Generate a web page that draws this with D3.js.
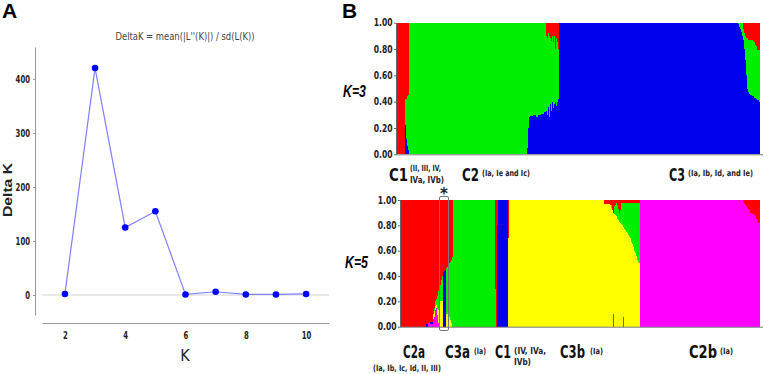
<!DOCTYPE html>
<html>
<head>
<meta charset="utf-8">
<script src="https://cdn.jsdelivr.net/npm/d3@7"></script>
<style>
  body { margin: 0; background: #fff; }
  svg { display: block; }
  .narrow { font-family: "Liberation Sans Narrow", "DejaVu Sans Condensed", "Liberation Sans", sans-serif; }
</style>
</head>
<body>
<div id="chart"></div>
<script>
// ---- panel A: Delta K by K ----
const kValues = [2, 3, 4, 5, 6, 7, 8, 9, 10];
const deltaK = [2, 420, 125, 155, 1, 6, 1, 1, 2];
const deltaKTicks = [0, 100, 200, 300, 400];
const kTicks = [2, 4, 6, 8, 10];

// ---- panel B: STRUCTURE membership, runs of individuals ----
// K=3 rows: [individuals, red, green, blue]
const k3Keys = ["blue", "green", "red"];
const k3Runs = [
  [9, 1, 0, 0],
  [1, .58, .2, .22], [1, .58, .3, .12], [1, .56, .38, .06], [1, .55, .42, .03],
  [118, 0, 1, 0],
  [1, 0, .95, .05], [1, 0, .8, .2], [1, 0, .72, .28],
  [3, 0, .71, .29], [3, 0, .7, .3], [2, 0, .72, .28], [3, 0, .7, .3], [3, 0, .69, .31], [2, 0, .68, .32],
  [1, .1, .57, .33], [1, .12, .58, .3], [1, .08, .56, .36], [1, .1, .62, .28], [1, .12, .5, .38],
  [1, .14, .53, .33], [1, .1, .5, .4], [1, .15, .5, .35], [1, .1, .52, .38], [1, .2, .4, .4],
  [1, .12, .51, .37], [1, .15, .45, .4], [1, .2, .38, .42],
  [179, 0, 0, 1],
  [1, 0, .01, .99], [1, 0, .03, .97], [1, 0, .05, .95], [1, 0, .07, .93], [1, 0, .1, .9],
  [1, .05, .08, .87], [1, .08, .12, .8], [1, .1, .18, .72], [1, .12, .28, .6], [1, .12, .38, .5],
  [1, .13, .4, .47], [1, .13, .41, .46], [1, .13, .42, .45], [1, .13, .42, .45], [1, .13, .43, .44],
  [1, .14, .42, .44], [1, .15, .42, .43], [1, .17, .4, .43], [1, .18, .4, .42], [1, .21, .38, .41],
  [1, .21, .38, .41], [1, .21, .39, .4]
];

// K=5 rows: [individuals, red, green, blue, yellow, magenta]
const k5Keys = ["magenta", "yellow", "blue", "green", "red"];
const k5Runs = [
  [26, 1, 0, 0, 0, 0], [2, .98, 0, .02, 0, 0], [2, .97, 0, 0, 0, .03], [3, .96, 0, .02, 0, .02],
  [1, .9, 0, 0, .04, .06], [1, .85, .03, 0, .04, .08], [1, .8, .04, 0, .03, .13], [1, .78, .05, 0, .02, .15],
  [1, .76, .1, 0, .05, .09], [1, .72, .15, 0, .1, .03], [1, .7, .12, 0, .18, 0], [1, .67, .13, 0, .2, 0],
  [1, .63, .17, 0, .2, 0], [1, .6, .2, 0, .2, 0], [1, .57, 0, .43, 0, 0], [1, .56, 0, .44, 0, 0],
  [1, .55, 0, .45, 0, 0], [1, .54, .36, 0, .1, 0], [1, .53, .37, 0, .1, 0], [1, .52, .38, 0, .1, 0],
  [1, .5, .42, 0, .08, 0], [1, .49, .46, 0, .05, 0], [1, .47, .5, 0, .03, 0], [1, .45, .55, 0, 0, 0],
  [42, 0, 1, 0, 0, 0],
  [1, .7, .3, 0, 0, 0], [1, 1, 0, 0, 0, 0], [1, .2, 0, .8, 0, 0],
  [10, 0, 0, 1, 0, 0],
  [1, .3, 0, 0, .7, 0],
  [95, 0, 0, 0, 1, 0], [6, .03, 0, 0, .97, 0],
  [1, .04, 0, 0, .96, 0], [1, .04, .02, 0, .94, 0], [1, .08, 0, 0, .92, 0], [1, .1, 0, 0, .8, .1],
  [1, .05, .06, 0, .89, 0], [1, .04, .08, 0, .88, 0], [1, .02, .11, 0, .87, 0], [1, .04, .11, 0, .85, 0],
  [1, .07, .09, 0, .84, 0], [1, .1, .07, 0, .83, 0], [1, .08, .1, 0, .82, 0], [1, .02, .17, 0, .81, 0],
  [1, .02, .18, 0, .8, 0], [1, .02, .19, 0, .71, .08], [1, .02, .21, 0, .77, 0], [1, .02, .22, 0, .76, 0],
  [1, .02, .23, 0, .75, 0], [1, .02, .24, 0, .74, 0], [1, .02, .26, 0, .72, 0], [1, .02, .27, 0, .71, 0],
  [1, .02, .28, 0, .7, 0], [1, .02, .31, 0, .67, 0], [1, .02, .33, 0, .65, 0], [1, .02, .35, 0, .63, 0],
  [1, .02, .38, 0, .6, 0], [1, .02, .4, 0, .58, 0], [1, .02, .42, 0, .56, 0], [1, .02, .45, 0, .53, 0],
  [1, .02, .47, 0, .51, 0], [1, .02, .48, 0, .5, 0],
  [103, 0, 0, 0, 0, 1],
  [1, .02, 0, 0, 0, .98], [1, .03, 0, 0, 0, .97], [1, .04, 0, 0, 0, .96], [1, .05, 0, 0, 0, .95],
  [1, .06, 0, 0, 0, .94], [1, .07, 0, 0, 0, .93], [1, .08, 0, 0, 0, .92], [1, .1, 0, 0, 0, .9],
  [1, .1, 0, 0, 0, .9], [1, .11, 0, 0, 0, .89], [1, .11, 0, 0, 0, .89], [1, .12, 0, 0, 0, .88],
  [1, .13, 0, 0, 0, .87], [1, .15, 0, 0, 0, .85], [1, .17, 0, 0, 0, .83], [1, .18, 0, 0, 0, .82],
  [1, .18, 0, 0, 0, .82]
];
const membershipTicks = [0, .2, .4, .6, .8, 1];

const clusterColor = {
  red: "#ff0000", green: "#00ee00", blue: "#0000ee", yellow: "#ffff00", magenta: "#ff00ff"
};

const W = 768, H = 374;
const svg = d3.select("#chart").append("svg").attr("width", W).attr("height", H);

// squeeze a label to a given width per character
function fitText(sel, perChar) {
  sel.each(function () {
    const t = d3.select(this);
    t.attr("textLength", t.text().length * perChar).attr("lengthAdjust", "spacingAndGlyphs");
  });
}

// place a text at (x, baseline) and squeeze it horizontally to width w
function squeezedText(str, x, y, w, size, extra) {
  const t = svg.append("text").attr("x", 0).attr("y", 0).attr("class", "narrow")
    .attr("font-weight", "bold").attr("font-size", size).attr("fill", extra || "#111").text(str);
  const natural = t.node().getComputedTextLength();
  const s = Math.min(1, w / natural);
  t.attr("transform", `translate(${x},${y}) scale(${s},1)`);
  return t;
}

// panel letters
svg.append("text").attr("x", 2).attr("y", 18).attr("font-family", "Liberation Sans, Arial, sans-serif")
  .attr("font-weight", "bold").attr("font-size", 21).text("A");
svg.append("text").attr("x", 342).attr("y", 18).attr("font-family", "Liberation Sans, Arial, sans-serif")
  .attr("font-weight", "bold").attr("font-size", 21).text("B");

// ---------- panel A ----------
const xA = d3.scaleLinear().domain([1.24, 10.76]).range([42, 329]);
const yA = d3.scaleLinear().domain([-37, 459]).range([315, 47]);
const gA = svg.append("g");

gA.append("line").attr("x1", 42).attr("x2", 329).attr("y1", yA(0)).attr("y2", yA(0))
  .attr("stroke", "#d4d4d4").attr("stroke-width", 1);

const yAxisA = gA.append("g").attr("transform", "translate(35,0)")
  .call(d3.axisLeft(yA).tickValues(deltaKTicks).tickSize(2).tickSizeOuter(0).tickPadding(3));
const xAxisA = gA.append("g").attr("transform", "translate(0,323)")
  .call(d3.axisBottom(xA).tickValues(kTicks).tickSize(0).tickSizeOuter(0).tickPadding(8));
[yAxisA, xAxisA].forEach(ax => {
  ax.select(".domain").attr("stroke", "#999");
  ax.selectAll(".tick line").attr("stroke", "#999");
  ax.selectAll("text").attr("class", "narrow").attr("font-size", 11).attr("font-weight", "bold")
    .attr("fill", "#222").call(fitText, 4.8);
});

const line = d3.line().x((d, i) => xA(kValues[i])).y(d => yA(d));
gA.append("path").datum(deltaK).attr("fill", "none").attr("stroke", "#8080ff")
  .attr("stroke-width", 1.2).attr("d", line);
gA.selectAll("circle").data(deltaK).join("circle")
  .attr("cx", (d, i) => xA(kValues[i])).attr("cy", d => yA(d)).attr("r", 3.3).attr("fill", "#0000ff");

gA.append("text").attr("x", 185).attr("y", 40).attr("text-anchor", "middle")
  .attr("font-family", "DejaVu Sans, sans-serif").attr("font-size", 10.5).attr("fill", "#444")
  .attr("textLength", 139).attr("lengthAdjust", "spacingAndGlyphs")
  .text("DeltaK = mean(|L''(K)|) / sd(L(K))");
gA.append("text").attr("transform", "translate(12,190) rotate(-90)").attr("text-anchor", "middle")
  .attr("font-family", "Liberation Sans, Arial, sans-serif").attr("font-weight", "bold").attr("font-size", 12.5)
  .attr("textLength", 54).attr("lengthAdjust", "spacingAndGlyphs").attr("fill", "#222").text("Delta K");
gA.append("text").attr("x", 185).attr("y", 361).attr("text-anchor", "middle").attr("class", "narrow")
  .attr("font-size", 16).attr("fill", "#222").text("K");

// ---------- panel B ----------
function structurePlot(runs, fields, keys, box) {
  const rows = [];
  let start = 0;
  runs.forEach(r => {
    const o = { start, n: r[0] };
    fields.forEach((f, i) => { o[f] = r[i + 1]; });
    rows.push(o);
    start += r[0];
  });
  const x = d3.scaleLinear().domain([0, start]).range([box.left, box.right]);
  const y = d3.scaleLinear().domain([0, 1]).range([box.bottom, box.top]);
  const series = d3.stack().keys(keys)(rows);
  const g = svg.append("g");
  g.selectAll("g.layer").data(series).join("g").attr("class", "layer")
    .attr("fill", s => clusterColor[s.key])
    .selectAll("rect").data(s => s).join("rect")
    .attr("x", d => x(d.data.start))
    .attr("width", d => x(d.data.start + d.data.n) - x(d.data.start) + 0.4)
    .attr("y", d => y(d[1]))
    .attr("height", d => Math.max(0, y(d[0]) - y(d[1])))
    .attr("shape-rendering", "crispEdges");
  const ax = g.append("g").attr("transform", `translate(${box.left},0)`)
    .call(d3.axisLeft(y).tickValues(membershipTicks).tickFormat(d3.format(".2f"))
      .tickSize(2).tickSizeOuter(0).tickPadding(1.5));
  ax.select(".domain").attr("stroke", "#666");
  ax.selectAll(".tick line").attr("stroke", "#666");
  ax.selectAll("text").attr("class", "narrow").attr("font-size", 10).attr("font-weight", "bold")
    .attr("fill", "#222").call(fitText, 4.7);
  g.append("line").attr("x1", box.left).attr("x2", box.right + 3)
    .attr("y1", box.bottom + 0.5).attr("y2", box.bottom + 0.5).attr("stroke", "#777");
  return { x, y };
}

structurePlot(k3Runs, ["red", "green", "blue"], k3Keys, { left: 396, right: 760, top: 22.7, bottom: 154.3 });
structurePlot(k5Runs, ["red", "green", "blue", "yellow", "magenta"], k5Keys, { left: 400, right: 760, top: 200, bottom: 326.7 });

// K labels
[["K=3", 343, 97], ["K=5", 345, 268]].forEach(([t, x, yy]) => {
  svg.append("text").attr("x", x).attr("y", yy).attr("font-family", "Liberation Sans, Arial, sans-serif")
    .attr("font-weight", "bold").attr("font-style", "italic").attr("font-size", 17)
    .attr("textLength", 23).attr("lengthAdjust", "spacingAndGlyphs").text(t);
});

// cluster labels: [text, x, baseline, width]
const bigLabels = [
  ["C1", 389, 180.5, 19], ["C2", 462, 180.5, 17], ["C3", 669, 180.5, 16],
  ["C2a", 403, 357.5, 22], ["C3a", 445, 357.5, 25], ["C1", 495, 357.5, 16],
  ["C3b", 560, 357.5, 25], ["C2b", 689, 357.5, 28]
];
bigLabels.forEach(([t, x, yy, w]) => squeezedText(t, x, yy, w, 18, "#111"));

const smallLabels = [
  ["(II, III, IV,", 410, 171, 31], ["IVa,  IVb)", 410, 183, 34], ["(Ia, Ie and Ic)", 482, 176, 48],
  ["(Ia, Ib, Id, and Ie)", 688, 176, 65],
  ["(Ia, Ib, Ic, Id, II, III)", 373, 371, 68], ["(Ia)", 474, 354, 12],
  ["(IV, IVa,", 514, 354, 32], ["IVb)", 514, 365, 17], ["(Ia)", 590, 354, 13], ["(Ia)", 720, 354, 13]
];
smallLabels.forEach(([t, x, yy, w]) => squeezedText(t, x, yy, w, 8.5, "#222"));

// highlighted admixed group
svg.append("rect").attr("x", 439.5).attr("y", 196.5).attr("width", 9).attr("height", 134)
  .attr("rx", 1.5).attr("fill", "none").attr("stroke", "#777").attr("stroke-width", 1);
svg.append("text").attr("x", 444).attr("y", 199).attr("text-anchor", "middle")
  .attr("font-family", "DejaVu Sans, sans-serif").attr("font-weight", "bold").attr("font-size", 15)
  .attr("fill", "#222").text("*");
</script>
</body>
</html>
